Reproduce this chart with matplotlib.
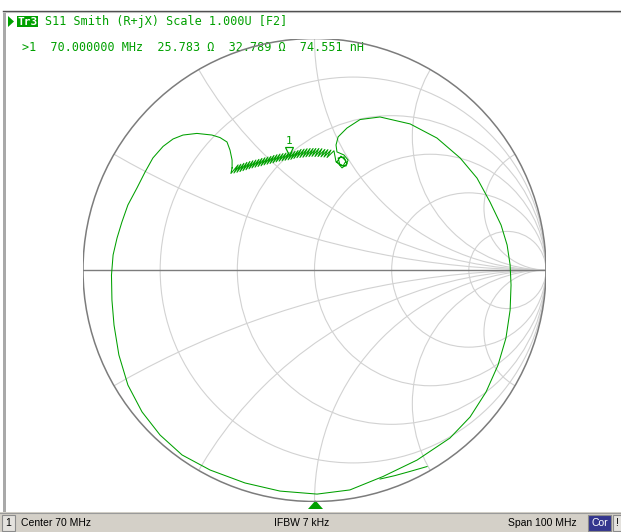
import matplotlib
matplotlib.use('Agg')
import matplotlib.pyplot as plt
import matplotlib.transforms as mtransforms
from matplotlib.patches import Circle, Rectangle, Polygon

# smith chart grid: constant resistance circles and reactance arcs (normalized)
r_circles = [0.2, 0.5, 1.0, 2.0, 5.0]
x_arcs = [0.268, 0.577, 1.0, 1.732, 3.732]

# S11 sweep as reflection coefficient (real / imag)
s11_re = [-0.356, -0.356, -0.365, -0.378, -0.408, -0.443, -0.508, -0.568, -0.611, -0.654,
          -0.698, -0.732, -0.767, -0.806, -0.832, -0.853, -0.870, -0.877, -0.875, -0.866,
          -0.845, -0.806, -0.745, -0.667, -0.572, -0.451, -0.300, -0.149, 0.011, 0.153,
          0.296, 0.443, 0.585, 0.672, 0.741, 0.793, 0.827, 0.845, 0.849, 0.845,
          0.832, 0.806, 0.758, 0.702, 0.629, 0.529, 0.413, 0.283, 0.197, 0.140,
          0.102, 0.093, 0.097,
          0.127, 0.145, 0.136, 0.110, 0.102, 0.127, 0.140, 0.119, 0.097, 0.114,
          0.136, 0.123, 0.093,
          0.084, 0.054, 0.071, 0.041, 0.058, 0.028, 0.045, 0.015, 0.032, 0.002,
          0.019, -0.011, 0.006, -0.024, -0.006, -0.037, -0.019, -0.050, -0.032, -0.063,
          -0.045, -0.076, -0.058, -0.089, -0.071, -0.102, -0.084, -0.114, -0.097, -0.127,
          -0.110, -0.140, -0.123, -0.153, -0.136, -0.166, -0.149, -0.179, -0.162, -0.192,
          -0.175, -0.205, -0.188, -0.218, -0.201, -0.231, -0.214, -0.244, -0.227, -0.257,
          -0.240, -0.270, -0.253, -0.283, -0.266, -0.296, -0.279, -0.309, -0.292, -0.322,
          -0.305, -0.335, -0.318, -0.348, -0.330, -0.361,
          -0.356]
s11_im = [0.441, 0.475, 0.518, 0.553, 0.572, 0.583, 0.590, 0.583, 0.566, 0.534,
          0.484, 0.423, 0.354, 0.281, 0.207, 0.138, 0.065, -0.022, -0.130, -0.238,
          -0.367, -0.497, -0.613, -0.713, -0.799, -0.864, -0.920, -0.955, -0.968, -0.950,
          -0.892, -0.821, -0.726, -0.635, -0.527, -0.410, -0.294, -0.173, -0.065, 0.022,
          0.108, 0.194, 0.294, 0.397, 0.484, 0.570, 0.631, 0.661, 0.650, 0.613,
          0.575, 0.540, 0.510,
          0.497, 0.475, 0.449, 0.454, 0.484, 0.488, 0.458, 0.441, 0.467, 0.492,
          0.471, 0.449, 0.467,
          0.515, 0.486, 0.518, 0.488, 0.520, 0.489, 0.521, 0.490, 0.524, 0.490,
          0.525, 0.491, 0.525, 0.490, 0.525, 0.489, 0.525, 0.487, 0.524, 0.486,
          0.522, 0.485, 0.521, 0.482, 0.516, 0.478, 0.513, 0.476, 0.510, 0.474,
          0.507, 0.472, 0.505, 0.470, 0.503, 0.467, 0.501, 0.463, 0.498, 0.460,
          0.495, 0.457, 0.491, 0.454, 0.488, 0.450, 0.485, 0.447, 0.482, 0.444,
          0.478, 0.441, 0.475, 0.437, 0.472, 0.433, 0.469, 0.429, 0.465, 0.425,
          0.461, 0.422, 0.457, 0.419, 0.454, 0.417,
          0.441]

# start of the sweep, close to the rim
s11_start_re = [0.283, 0.348, 0.413, 0.486]
s11_start_im = [-0.903, -0.888, -0.870, -0.849]

# marker 1 readout
mk_freq = '70.000000 MHz'
mk_r = 25.783
mk_x = 32.789
mk_l = 74.551
z0 = 50.0

green = '#00a000'
grid_col = '#d2d2d2'
rim_col = '#7c7c7c'
W, H = 621, 532

fig = plt.figure(figsize=(W / 100, H / 100), dpi=100)
fig.patch.set_facecolor('white')

# pixel-space layer for the window chrome and text
bg = fig.add_axes([0, 0, 1, 1])
bg.set_xlim(0, W)
bg.set_ylim(H, 0)
bg.axis('off')

# smith chart axes, unit circle fills the box
cx, cy, rad = 314.5, 270.0, 231.5
sm = fig.add_axes([(cx - rad) / W, (H - cy - rad) / H, 2 * rad / W, 2 * rad / H])
sm.set_xlim(-1, 1)
sm.set_ylim(-1, 1)
sm.axis('off')

rim = Circle((0, 0), 1.0, fill=False, ec=rim_col, lw=1.1, zorder=3)
sm.add_patch(rim)

for r in r_circles:
    sm.add_patch(Circle((r / (1 + r), 0), 1 / (1 + r), fill=False, ec=grid_col, lw=0.8, zorder=1))

for x in x_arcs:
    for s in (1, -1):
        arc = Circle((1, s / x), 1 / x, fill=False, ec=grid_col, lw=0.8, zorder=1)
        sm.add_patch(arc)
        arc.set_clip_path(rim)

sm.plot([-1, 1], [0, 0], color=rim_col, lw=1.0, zorder=2)

# trace
sm.plot(s11_re, s11_im, color=green, lw=0.75, zorder=4)
sm.plot(s11_start_re, s11_start_im, color=green, lw=0.75, zorder=4)

# marker 1 from its impedance
z = complex(mk_r, mk_x)
g = (z - z0) / (z + z0)
mk_tr = mtransforms.offset_copy(sm.transData, fig=fig, x=0, y=8, units='dots')
sm.plot([g.real], [g.imag], marker='v', ms=6, mfc='none', mec=green, mew=0.9,
        transform=mk_tr, zorder=5)
sm.text(g.real, g.imag, '1', color=green, fontsize=8, ha='center', va='center',
        family='DejaVu Sans Mono',
        transform=mtransforms.offset_copy(sm.transData, fig=fig, x=0, y=18, units='dots'))

# window border
bg.add_patch(Rectangle((3, 11), 3, 501, fc='#a9a9a9', ec='none'))
bg.plot([3, W], [10.5, 10.5], color='#4a4a4a', lw=1.0)
bg.plot([3, W], [12, 12], color='#bdbdbd', lw=0.8)

# trace header
bg.add_patch(Polygon([(8, 16), (14, 21.5), (8, 27)], closed=True, fc=green, ec='none'))
bg.add_patch(Rectangle((17, 16), 21, 11, fc=green, ec='none'))
bg.text(27.5, 21.8, 'Tr3', color='white', fontsize=8, family='DejaVu Sans Mono',
        fontweight='bold', ha='center', va='center')
bg.text(45, 21.8, 'S11 Smith (R+jX) Scale 1.000U [F2]', color=green, fontsize=8.5,
        family='DejaVu Sans Mono', va='center')
bg.text(22, 47.5, f'>1  {mk_freq}  {mk_r:.3f} Ω  {mk_x:.3f} Ω  {mk_l:.3f} nH',
        color=green, fontsize=8.5, family='DejaVu Sans Mono', va='center')

# stimulus position marker
bg.add_patch(Polygon([(308, 509), (323, 509), (315.5, 500.5)], closed=True, fc=green, ec='none'))

# status bar
bg.add_patch(Rectangle((0, 512), W, 20, fc='#d4d0c8', ec='none'))
bg.plot([0, W], [512.5, 512.5], color='#9a9a9a', lw=0.8)
bg.add_patch(Rectangle((2, 514.5), 13, 16, fc='#e4e2de', ec='#8c8c8c', lw=0.8))
bg.text(8.5, 523, '1', fontsize=7.5, family='Liberation Sans', ha='center', va='center')
bg.text(21, 523, 'Center 70 MHz', fontsize=7.5, family='Liberation Sans', va='center')
bg.text(302, 523, 'IFBW 7 kHz', fontsize=7.5, family='Liberation Sans', ha='center', va='center')
bg.text(508, 523, 'Span 100 MHz', fontsize=7.5, family='Liberation Sans', va='center')
bg.add_patch(Rectangle((588, 514.5), 23, 16, fc='#34368e', ec='#8c8c8c', lw=0.8))
bg.text(599.5, 523, 'Cor', fontsize=7.5, family='Liberation Sans', color='white',
        ha='center', va='center')
bg.add_patch(Rectangle((613, 514.5), 9, 16, fc='#e4e2de', ec='#8c8c8c', lw=0.8))
bg.text(617, 523, '!', fontsize=7.5, family='Liberation Sans', ha='center', va='center')

fig.savefig('out.png', dpi=100)
